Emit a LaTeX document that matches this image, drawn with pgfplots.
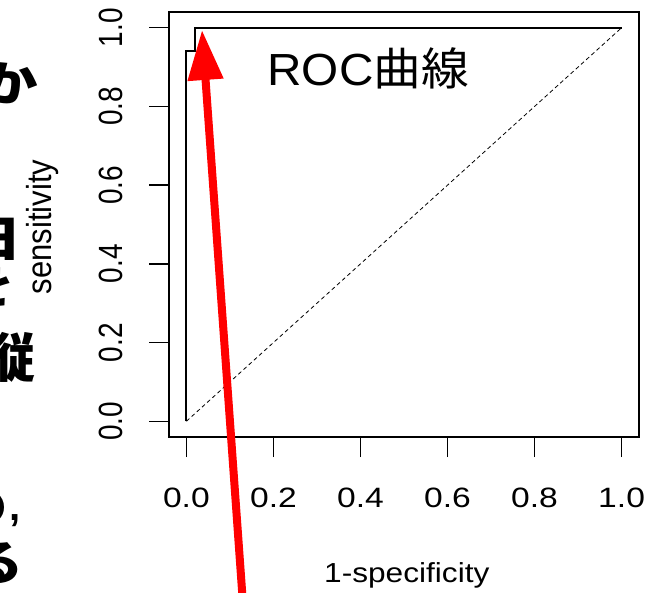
\documentclass[border=0pt]{standalone}
\usepackage{pgfplots}
\pgfplotsset{compat=1.18}
\usepackage{fontspec}
\setmainfont{Liberation Sans}
\newfontfamily\cjk{Noto Sans CJK JP}
\usetikzlibrary{arrows.meta}
\begin{document}
\begin{tikzpicture}[x=1pt,y=1pt]
\begin{axis}[
  at={(169pt,155pt)}, anchor=south west,
  scale only axis, width=470pt, height=425pt,
  xmin=-0.04, xmax=1.04, ymin=-0.04, ymax=1.04,
  axis line style={line width=1.3pt, black},
  tick style={line width=1.3pt, black},
  tick align=outside, major tick length=20pt,
  xtick={0,0.2,0.4,0.6,0.8,1}, ytick={0,0.2,0.4,0.6,0.8,1},
  xtick pos=left, ytick pos=left,
  /pgf/number format/assume math mode=true,
  every tick label/.append style={font=\fontsize{28}{34}\selectfont, inner sep=0pt},
  xticklabel={\scalebox{1.2}[1]{\pgfmathprintnumber[fixed,fixed zerofill,precision=1]{\tick}}},
  yticklabel={\scalebox{1}[1.2]{\pgfmathprintnumber[fixed,fixed zerofill,precision=1]{\tick}}},
  xticklabel style={anchor=north},
  yticklabel style={rotate=90, anchor=south},
  xticklabel shift=31pt,
  yticklabel shift=26pt,
  xlabel={\scalebox{1.15}[1]{1-specificity}},
  ylabel={\scalebox{1}[1.12]{sensitivity}},
  label style={font=\fontsize{27.5}{32}\selectfont},
  xlabel style={at={(axis description cs:0.506,-0.325)}, anchor=center},
  ylabel style={at={(axis description cs:-0.27,0.494)}, anchor=center, rotate=0, font=\fontsize{31}{36}\selectfont},
]
\addplot[black, line width=2pt] coordinates {(0,0) (0,0.94) (0.02,0.94) (0.02,1) (1,1)};
\addplot[black, line width=0.8pt, dash pattern=on 4pt off 3pt] coordinates {(0,0) (1,1)};
\node[anchor=base west, inner sep=0pt, font=\fontsize{45}{50}\selectfont] at (axis cs:0.186,0.854) {\scalebox{1.06}[1]{ROC{\cjk 曲線}}};
\end{axis}
\begin{scope}[every node/.style={inner sep=0pt, font=\fontsize{48}{56}\selectfont\cjk\bfseries}]
\node[anchor=east] at (38,509) {\scalebox{1.2}[1]{か}};
\node[anchor=east] at (22,353) {\scalebox{1.2}[1]{日}};
\node[anchor=east] at (15,307) {\scalebox{1.2}[1]{を}};
\node[anchor=east] at (36,235) {\scalebox{1.25}[1.1]{縦}};
\node[anchor=east] at (8,84) {\scalebox{1.2}[1]{の}};
\node[anchor=east] at (24,29) {\scalebox{1.2}[1]{る}};
\end{scope}
\node[anchor=base west, inner sep=0pt, font=\fontsize{40}{44}\selectfont\bfseries] at (9,72) {,};
\draw[red, line width=8pt, -{Triangle[width=34pt,length=50pt]}] (243,-12) -- (202,562);
\pgfresetboundingbox
\useasboundingbox (0,0) rectangle (647,592);
\end{tikzpicture}
\end{document}
